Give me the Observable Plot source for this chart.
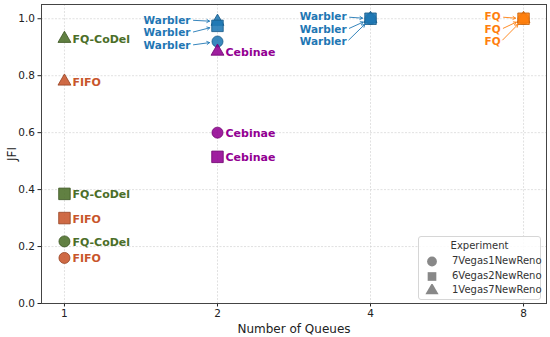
<!DOCTYPE html>
<html><head><meta charset="utf-8">
<script src="https://cdn.jsdelivr.net/npm/d3@7"></script>
<script src="https://cdn.jsdelivr.net/npm/@observablehq/plot@0.6"></script>
<style>
body{margin:0;background:#fff;font-family:"DejaVu Sans",sans-serif;}
#wrap{position:relative;width:550px;height:337px;}
#legend{position:absolute;left:418px;top:236px;width:123px;height:64px;border:1px solid #d6d6d6;border-radius:3px;background:rgba(255,255,255,0.85);font-size:10px;color:#333;box-sizing:border-box;}
#legend .title{position:absolute;left:0;width:100%;top:3px;text-align:center;}
#legend .row{position:absolute;left:6px;height:14px;line-height:14px;}
#legend .row svg{position:absolute;left:0;top:1px;}
#legend .row span{position:absolute;left:27px;white-space:nowrap;}
</style></head><body><div id="wrap"><div id="legend"></div></div>
<script>
// ---- data ----
const experiments = ["7Vegas1NewReno", "6Vegas2NewReno", "1Vegas7NewReno"];
const symbolNames = ["circle", "square", "triangle"];
const symbolRadius = [5.5, 6.5, 4.8];
const drawOrder = ["7Vegas1NewReno", "1Vegas7NewReno", "6Vegas2NewReno"];
const xTicks = [1, 2, 4, 8];
const yTicks = [0, 0.2, 0.4, 0.6, 0.8, 1.0];

const fifoQueues = 1,     fifoJFI = [0.16, 0.30, 0.78];
const fqcodelQueues = 1,  fqcodelJFI = [0.218, 0.385, 0.93];
const cebinaeQueues = 2,  cebinaeJFI = [0.60, 0.515, 0.885];
const warbler2Queues = 2, warbler2JFI = [0.92, 0.975, 0.99];
const warbler4Queues = 4, warbler4JFI = [1.0, 1.0, 1.0];
const fqQueues = 8,       fqJFI = [1.0, 1.0, 1.0];

const colors = {FIFO: "#c8552b", "FQ-CoDel": "#4b6e28", Cebinae: "#920092", Warbler: "#1f77b4", FQ: "#ff7f0e"};

// directly labelled points
const directLabels = ["FIFO", "FQ-CoDel", "Cebinae"];
// annotated points: text lines (data position of text end) with arrows
const annotPolicy = ["Warbler", "Warbler", "FQ"];
const annotQueues = [2, 4, 8];
const annotTextX = [1.77, 3.59, 7.21];
const annotTextY = [[0.995, 0.951, 0.907], [1.006, 0.962, 0.918], [1.006, 0.962, 0.918]];
const annotTargetY = [[0.99, 0.975, 0.92], [1.0, 1.0, 1.0], [1.0, 1.0, 1.0]];

// ---- build rows ----
const series = [
  ["FIFO", fifoQueues, fifoJFI],
  ["FQ-CoDel", fqcodelQueues, fqcodelJFI],
  ["Cebinae", cebinaeQueues, cebinaeJFI],
  ["Warbler", warbler2Queues, warbler2JFI],
  ["Warbler", warbler4Queues, warbler4JFI],
  ["FQ", fqQueues, fqJFI]
];
const points = [];
experiments.forEach((e, i) => {
  series.forEach(([p, q, vals]) => {
    points.push({policy: p, queues: q, jfi: vals[i], experiment: e,
      fill: colors[p], edge: d3.color(colors[p]).darker(0.8).formatHex()});
  });
});
const labelRows = points.filter(d => directLabels.includes(d.policy));
const annotRows = [];
annotPolicy.forEach((p, k) => {
  annotTextY[k].forEach((ty, j) => {
    annotRows.push({policy: p, tx: annotTextX[k], ty, x: annotQueues[k], y: annotTargetY[k][j], color: colors[p]});
  });
});

const dotMarks = drawOrder.map(e => {
  const i = experiments.indexOf(e);
  return Plot.dot(points.filter(d => d.experiment === e), {x: "queues", y: "jfi", symbol: "experiment",
    fill: "fill", stroke: "edge", r: symbolRadius[i], fillOpacity: 0.88, strokeWidth: 0.8});
});

const font = "DejaVu Sans";
const chart = Plot.plot({
  width: 550, height: 337,
  marginLeft: 41, marginRight: 4, marginTop: 4, marginBottom: 34,
  style: {fontFamily: font, fontSize: "10px", background: "white", color: "#222"},
  x: {type: "log", base: 2, domain: [Math.pow(2, -0.15), Math.pow(2, 3.15)]},
  y: {domain: [0, 1.05]},
  color: {type: "identity"},
  symbol: {domain: experiments, range: symbolNames},
  marks: [
    Plot.gridX(xTicks, {stroke: "#d0d0d0", strokeOpacity: 0.8, strokeDasharray: "2,1.5", strokeWidth: 0.8}),
    Plot.gridY(yTicks, {stroke: "#d0d0d0", strokeOpacity: 0.8, strokeDasharray: "2,1.5", strokeWidth: 0.8}),
    Plot.axisX(xTicks, {tickFormat: d => String(d), tickSize: 3.5, tickPadding: 3, fontSize: 10.5, label: null}),
    Plot.axisX({label: "Number of Queues", labelAnchor: "center", labelArrow: "none", labelOffset: 29,
      fontSize: 12, tickSize: 0, tickFormat: () => "", ticks: []}),
    Plot.axisY(yTicks, {tickFormat: d3.format(".1f"), tickSize: 3.5, tickPadding: 3, fontSize: 10.5, label: null}),
    Plot.axisY({label: "JFI", labelAnchor: "center", labelArrow: "none", labelOffset: 34,
      fontSize: 12, tickSize: 0, tickFormat: () => "", ticks: []}),
    Plot.frame({stroke: "#444", strokeWidth: 1}),
    ...dotMarks,
    Plot.text(labelRows, {x: "queues", y: "jfi", text: "policy", fill: "fill", textAnchor: "start", dx: 8, dy: 1,
      fontWeight: "bold", fontSize: 11}),
    Plot.arrow(annotRows, {x1: "tx", y1: "ty", x2: "x", y2: "y", stroke: "color", strokeWidth: 0.9,
      insetStart: 3, insetEnd: 8, headLength: 5}),
    Plot.text(annotRows, {x: "tx", y: "ty", text: "policy", fill: "color", textAnchor: "end",
      fontWeight: "bold", fontSize: 10.5})
  ]
});
document.getElementById("wrap").prepend(chart);

// legend (inside the plot area, lower right as in reference)
const legend = d3.select("#legend");
legend.append("div").attr("class", "title").text("Experiment");
const symPaths = [d3.symbolCircle, d3.symbolSquare, d3.symbolTriangle];
experiments.forEach((e, i) => {
  const row = legend.append("div").attr("class", "row").style("top", (17 + i * 14.5) + "px");
  const svg = row.append("svg").attr("width", 14).attr("height", 12);
  svg.append("path").attr("transform", "translate(7,6.5)")
    .attr("d", d3.symbol(symPaths[i], 75)()).attr("fill", "#888");
  row.append("span").text(e);
});
</script></body></html>
